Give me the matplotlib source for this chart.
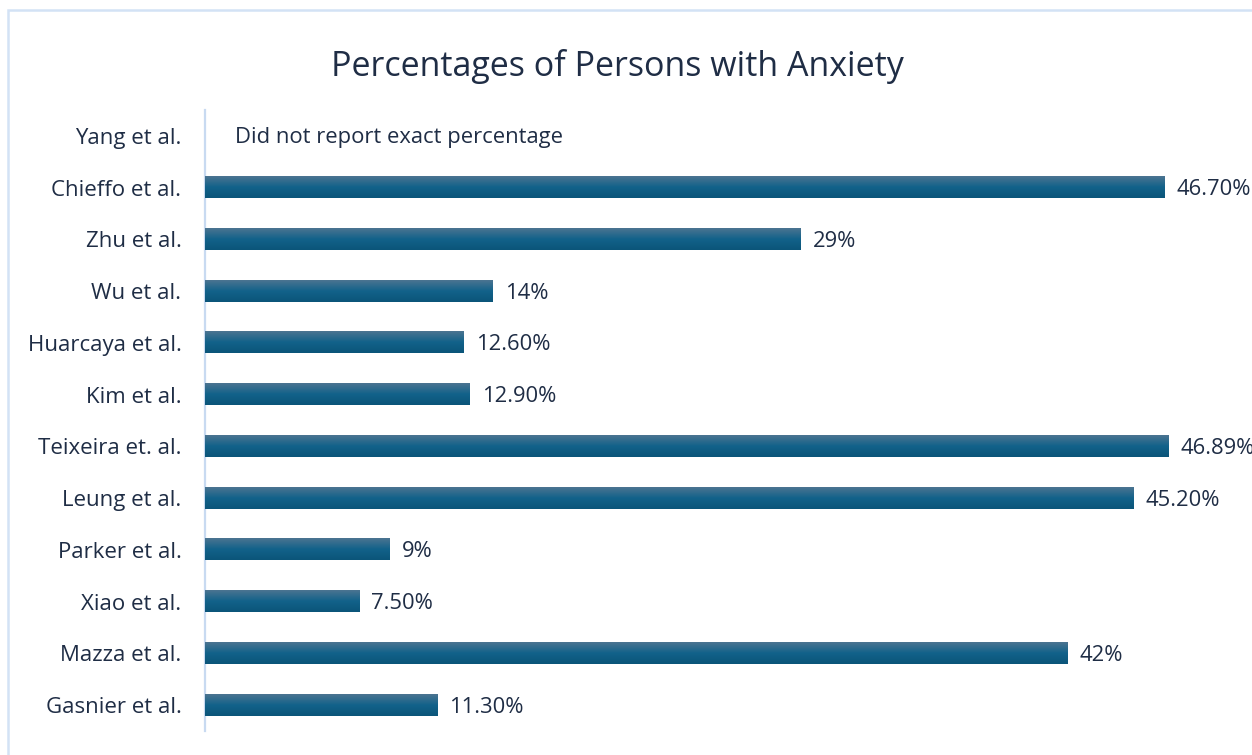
import matplotlib
matplotlib.use("Agg")
import matplotlib.pyplot as plt
import numpy as np
from matplotlib.colors import LinearSegmentedColormap
from matplotlib.patches import Rectangle

studies = ["Yang et al.", "Chieffo et al.", "Zhu et al.", "Wu et al.", "Huarcaya et al.",
           "Kim et al.", "Teixeira et. al.", "Leung et al.", "Parker et al.", "Xiao et al.",
           "Mazza et al.", "Gasnier et al."]
values = [0, 46.70, 29, 14, 12.60, 12.90, 46.89, 45.20, 9, 7.50, 42, 11.30]
value_labels = ["Did not report exact percentage", "46.70%", "29%", "14%", "12.60%", "12.90%",
                "46.89%", "45.20%", "9%", "7.50%", "42%", "11.30%"]

W, H = 1252, 755
fig = plt.figure(figsize=(W / 100, H / 100), dpi=100)
plt.rcParams['font.family'] = ['Open Sans', 'DejaVu Sans']
text_color = "#1f2d45"

# outer chart border
fig.patches.append(Rectangle((8 / W, -0.1), 1.2, 1 - 10 / H + 0.1, transform=fig.transFigure,
                             fill=False, edgecolor="#d3e2f5", linewidth=1.8, zorder=0))

ax = fig.add_axes([205 / W, 1 - 731 / H, (1232 - 205) / W, (731 - 110) / H])
y = np.arange(len(studies))
bars = ax.barh(y, values, height=0.41, color="#10608a", zorder=2)

cmap = LinearSegmentedColormap.from_list("g", ["#4b7491", "#12628a", "#0b5579"])
grad = np.linspace(0, 1, 64).reshape(-1, 1)
for b in bars:
    x0, y0, w, h = b.get_x(), b.get_y(), b.get_width(), b.get_height()
    if w <= 0:
        continue
    ax.imshow(grad, extent=(x0, x0 + w, y0 + h, y0), origin="upper", aspect="auto",
              cmap=cmap, zorder=3, interpolation="bilinear")
    b.set_visible(False)

for i, (v, lab) in enumerate(zip(values, value_labels)):
    off = 30 if v == 0 else 12
    ax.annotate(lab, xy=(v, i), xytext=(off, -2), textcoords="offset pixels",
                va="center", ha="left", fontsize=15.8, color=text_color, annotation_clip=False)

ax.set_xlim(0, 50)
ax.set_ylim(len(studies) - 0.5, -0.5)
ax.set_yticks(y)
ax.set_yticklabels(studies, fontsize=16, color=text_color)
ax.tick_params(axis="y", length=0, pad=17)
ax.set_xticks([])
for s in ["top", "right", "bottom"]:
    ax.spines[s].set_visible(False)
ax.spines["left"].set_color("#c8daf1")
ax.spines["left"].set_linewidth(1.6)
ax.set_facecolor("none")

fig.text(617 / W, 1 - 67 / H, "Percentages of Persons with Anxiety", ha="center", va="center",
         fontsize=24.5, color=text_color)

fig.savefig("out.png", dpi=100)
